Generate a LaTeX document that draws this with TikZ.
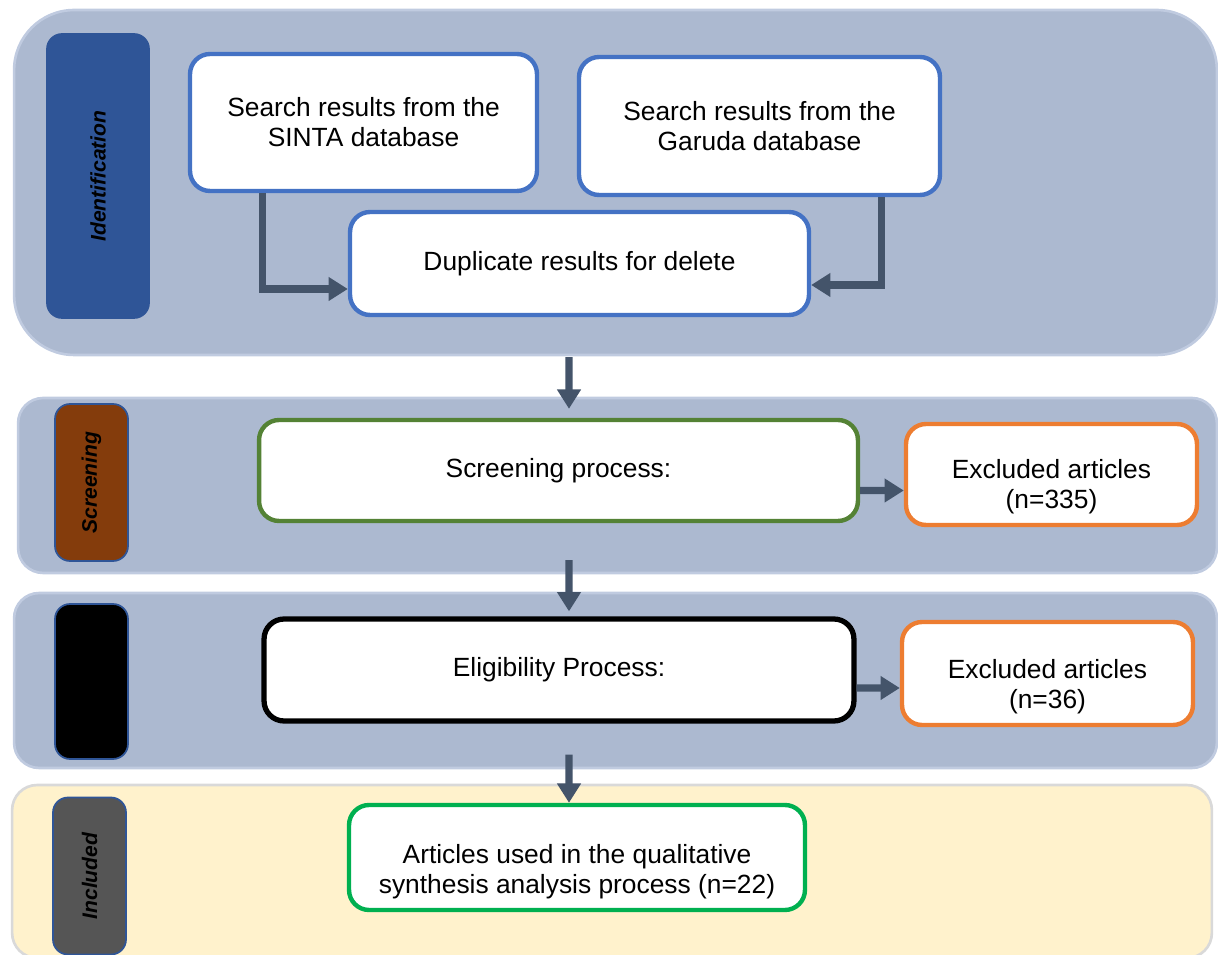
\documentclass[tikz,border=0pt]{standalone}
\usepackage{fontspec}
\setmainfont{Liberation Sans}
\usetikzlibrary{arrows.meta, positioning}

\definecolor{panelblue}{RGB}{172,185,208}
\definecolor{paneledge}{RGB}{192,203,224}
\definecolor{panelyellow}{RGB}{255,242,204}
\definecolor{idblue}{RGB}{47,85,151}
\definecolor{scrbrown}{RGB}{132,60,12}
\definecolor{incgray}{RGB}{85,85,85}
\definecolor{boxblue}{RGB}{68,114,196}
\definecolor{boxgreen}{RGB}{84,130,53}
\definecolor{boxorange}{RGB}{237,125,49}
\definecolor{boxlime}{RGB}{0,176,80}
\definecolor{arrowslate}{RGB}{68,84,106}

\begin{document}
\begin{tikzpicture}[
    x=0.02cm, y=-0.02cm,
    panel/.style={rectangle, rounded corners=0.5cm, fill=panelblue, draw=paneledge, line width=1.5pt},
    phase/.style={rectangle, rounded corners=0.3cm, draw=idblue, line width=1pt, rotate=90, text=black, font=\fontsize{12}{14}\selectfont\bfseries\itshape},
    box/.style={rectangle, rounded corners=0.4cm, draw=boxblue, fill=white, line width=2.5pt, align=center, font=\fontsize{15}{17}\selectfont},
    txt/.style={align=center, font=\fontsize{15}{17}\selectfont},
    arrow/.style={-{Triangle[width=13pt,length=11pt]}, line width=4pt, arrowslate}
]
\clip (0,0) rectangle (1218,955);

% Phase panels
\node[panel, rounded corners=1.2cm, minimum width=24.06cm, minimum height=6.9cm] (idpanel) at (615.5,182.5) {};
\node[panel, minimum width=23.98cm, minimum height=3.5cm] (scrpanel) at (617.5,485.5) {};
\node[panel, minimum width=24.06cm, minimum height=3.5cm] (elipanel) at (615.5,680.5) {};
\node[panel, fill=panelyellow, draw=black!15, minimum width=24cm, minimum height=3.46cm] (incpanel) at (612,871.5) {};

% Phase labels
\node[phase, fill=idblue, minimum width=5.68cm, minimum height=2.04cm] (idlabel) at (98,176) {Identification};
\node[phase, fill=scrbrown, minimum width=3.14cm, minimum height=1.46cm] (scrlabel) at (91.5,482.5) {Screening};
\node[phase, fill=black, minimum width=3.1cm, minimum height=1.46cm] (elilabel) at (91.5,681.5) {};
\node[phase, fill=incgray, minimum width=3.14cm, minimum height=1.46cm] (inclabel) at (89.5,876) {Included};

% Boxes
\node[box, minimum width=6.94cm, minimum height=2.74cm] (sinta) at (363.5,122.5) {Search results from the\\SINTA database};
\node[box, minimum width=7.22cm, minimum height=2.76cm] (garuda) at (759.5,126) {Search results from the\\Garuda database};
\node[box, minimum width=9.18cm, minimum height=2.06cm] (dup) at (579.5,263.5) {Duplicate results for delete};
\node[box, draw=boxgreen, minimum width=11.98cm, minimum height=2.02cm] (screen) at (558.5,470.5) {Screening process:};
\node[box, draw=boxorange, minimum width=5.82cm, minimum height=2.02cm] (excl1) at (1051.5,474.5) {};
\node[txt] (excl1txt) at (1051.5,487) {Excluded articles\\(n=335)};
\node[box, draw=black, line width=3pt, minimum width=11.8cm, minimum height=2.04cm] (elig) at (559,670) {Eligibility Process:};
\node[box, draw=boxorange, minimum width=5.82cm, minimum height=2.06cm] (excl2) at (1047.5,673.5) {};
\node[txt] (excl2txt) at (1047.5,687) {Excluded articles\\(n=36)};
\node[box, draw=boxlime, minimum width=9.12cm, minimum height=2.1cm] (articles) at (577,857.5) {};
\node[txt] (articlestxt) at (577,872) {Articles used in the qualitative\\synthesis analysis process (n=22)};

% Arrows
\draw[arrow] ([xshift=-2.03cm]sinta.south) |- ([yshift=-0.51cm]dup.west);
\draw[arrow] ([xshift=2.45cm]garuda.south) |- ([yshift=-0.43cm]dup.east);
\draw[arrow, shorten <=0.8cm, shorten >=0.18cm] ([xshift=-0.21cm]dup.south) -- ([xshift=0.21cm]screen.north);
\draw[arrow, shorten <=0.74cm, shorten >=0.1cm] ([xshift=0.21cm]screen.south) -- ([xshift=0.2cm]elig.north);
\draw[arrow, shorten <=0.62cm] ([xshift=0.2cm]elig.south) -- ([xshift=-0.16cm]articles.north);
\draw[arrow] ([yshift=-0.4cm]screen.east) -- ([yshift=-0.32cm]excl1.west);
\draw[arrow] ([yshift=-0.36cm]elig.east) -- ([yshift=-0.29cm]excl2.west);

\end{tikzpicture}
\end{document}
